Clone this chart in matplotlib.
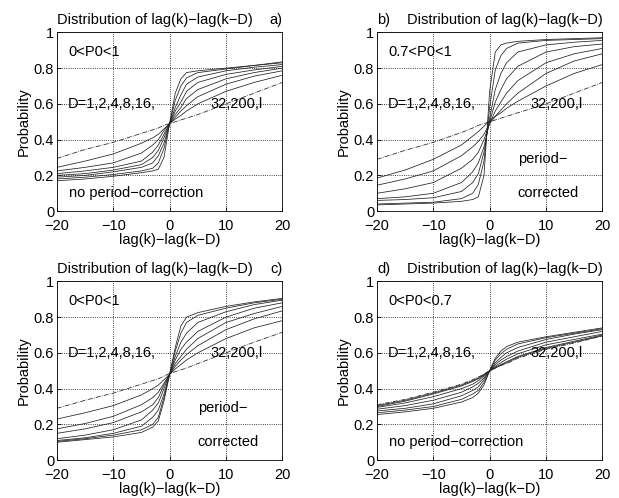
import matplotlib
matplotlib.use("Agg")
import matplotlib.pyplot as plt

plt.rcParams["font.family"] = ["Liberation Sans", "DejaVu Sans"]
plt.rcParams["font.size"] = 10.5

# sample points on the lag-difference axis
lag_diff = [-20, -15, -10, -5, -3, -2, -1, 0, 1, 2, 3, 5, 10, 15, 20]
d_labels = ["1", "2", "4", "8", "16", "32", "200", "l"]

# a) 0<P0<1, no period-correction
prob_a_d1 = [0.17, 0.18, 0.195, 0.215, 0.225, 0.235, 0.30, 0.49, 0.66, 0.74, 0.775, 0.785, 0.80, 0.815, 0.835]
prob_a_d2 = [0.18, 0.19, 0.205, 0.225, 0.24, 0.27, 0.35, 0.49, 0.62, 0.70, 0.745, 0.775, 0.795, 0.815, 0.83]
prob_a_d4 = [0.19, 0.20, 0.22, 0.245, 0.27, 0.31, 0.38, 0.49, 0.58, 0.65, 0.71, 0.75, 0.785, 0.805, 0.82]
prob_a_d8 = [0.20, 0.21, 0.23, 0.26, 0.30, 0.34, 0.41, 0.49, 0.56, 0.61, 0.67, 0.72, 0.765, 0.79, 0.81]
prob_a_d16 = [0.21, 0.225, 0.245, 0.28, 0.33, 0.37, 0.43, 0.49, 0.54, 0.58, 0.63, 0.68, 0.74, 0.775, 0.80]
prob_a_d32 = [0.225, 0.245, 0.27, 0.325, 0.37, 0.40, 0.45, 0.49, 0.525, 0.56, 0.59, 0.64, 0.71, 0.755, 0.785]
prob_a_d200 = [0.245, 0.28, 0.32, 0.38, 0.41, 0.43, 0.46, 0.49, 0.515, 0.535, 0.56, 0.60, 0.67, 0.72, 0.76]
prob_a_dl = [0.295, 0.345, 0.385, 0.435, 0.455, 0.465, 0.48, 0.49, 0.50, 0.51, 0.52, 0.54, 0.60, 0.66, 0.72]

# b) 0.7<P0<1, period-corrected
prob_b_d1 = [0.035, 0.04, 0.045, 0.055, 0.065, 0.08, 0.20, 0.67, 0.89, 0.93, 0.94, 0.95, 0.96, 0.965, 0.97]
prob_b_d2 = [0.04, 0.045, 0.05, 0.07, 0.10, 0.15, 0.28, 0.58, 0.79, 0.87, 0.91, 0.94, 0.955, 0.96, 0.965]
prob_b_d4 = [0.06, 0.065, 0.075, 0.11, 0.16, 0.21, 0.33, 0.52, 0.68, 0.77, 0.83, 0.89, 0.93, 0.945, 0.955]
prob_b_d8 = [0.07, 0.08, 0.10, 0.16, 0.22, 0.27, 0.36, 0.50, 0.61, 0.68, 0.74, 0.81, 0.89, 0.92, 0.935]
prob_b_d16 = [0.10, 0.125, 0.16, 0.24, 0.29, 0.33, 0.40, 0.49, 0.56, 0.61, 0.66, 0.73, 0.83, 0.88, 0.91]
prob_b_d32 = [0.145, 0.18, 0.225, 0.31, 0.36, 0.39, 0.43, 0.49, 0.53, 0.565, 0.60, 0.66, 0.77, 0.84, 0.88]
prob_b_d200 = [0.185, 0.23, 0.29, 0.37, 0.42, 0.445, 0.475, 0.505, 0.53, 0.55, 0.575, 0.615, 0.70, 0.77, 0.82]
prob_b_dl = [0.29, 0.34, 0.385, 0.44, 0.465, 0.48, 0.49, 0.50, 0.51, 0.52, 0.53, 0.55, 0.60, 0.66, 0.72]

# c) 0<P0<1, period-corrected
prob_c_d1 = [0.10, 0.115, 0.13, 0.155, 0.185, 0.22, 0.33, 0.48, 0.63, 0.75, 0.80, 0.825, 0.86, 0.885, 0.905]
prob_c_d2 = [0.105, 0.12, 0.14, 0.17, 0.20, 0.24, 0.35, 0.48, 0.61, 0.71, 0.77, 0.81, 0.85, 0.88, 0.90]
prob_c_d4 = [0.11, 0.125, 0.15, 0.19, 0.24, 0.28, 0.37, 0.48, 0.58, 0.66, 0.71, 0.77, 0.83, 0.87, 0.895]
prob_c_d8 = [0.12, 0.14, 0.17, 0.225, 0.28, 0.32, 0.40, 0.48, 0.56, 0.62, 0.66, 0.72, 0.80, 0.85, 0.88]
prob_c_d16 = [0.15, 0.175, 0.21, 0.27, 0.31, 0.35, 0.42, 0.48, 0.54, 0.58, 0.62, 0.68, 0.77, 0.82, 0.86]
prob_c_d32 = [0.175, 0.205, 0.245, 0.31, 0.35, 0.38, 0.43, 0.48, 0.525, 0.56, 0.59, 0.64, 0.73, 0.79, 0.835]
prob_c_d200 = [0.23, 0.265, 0.305, 0.365, 0.40, 0.42, 0.45, 0.48, 0.51, 0.535, 0.56, 0.60, 0.68, 0.74, 0.78]
prob_c_dl = [0.29, 0.335, 0.375, 0.425, 0.445, 0.455, 0.47, 0.485, 0.495, 0.505, 0.515, 0.54, 0.60, 0.66, 0.715]

# d) 0<P0<0.7, no period-correction
prob_d_d1 = [0.255, 0.27, 0.29, 0.325, 0.35, 0.375, 0.42, 0.50, 0.57, 0.61, 0.635, 0.66, 0.69, 0.715, 0.74]
prob_d_d2 = [0.265, 0.28, 0.30, 0.34, 0.37, 0.39, 0.435, 0.50, 0.56, 0.595, 0.62, 0.65, 0.685, 0.71, 0.735]
prob_d_d4 = [0.275, 0.29, 0.315, 0.36, 0.39, 0.41, 0.45, 0.50, 0.545, 0.575, 0.60, 0.63, 0.675, 0.705, 0.73]
prob_d_d8 = [0.285, 0.305, 0.335, 0.38, 0.41, 0.43, 0.46, 0.50, 0.535, 0.56, 0.58, 0.61, 0.66, 0.69, 0.72]
prob_d_d16 = [0.295, 0.32, 0.355, 0.40, 0.425, 0.445, 0.47, 0.50, 0.525, 0.545, 0.565, 0.595, 0.645, 0.675, 0.705]
prob_d_d32 = [0.30, 0.33, 0.37, 0.415, 0.44, 0.455, 0.475, 0.50, 0.52, 0.535, 0.55, 0.58, 0.63, 0.665, 0.70]
prob_d_d200 = [0.305, 0.335, 0.375, 0.42, 0.445, 0.46, 0.48, 0.50, 0.515, 0.53, 0.545, 0.575, 0.625, 0.66, 0.695]
prob_d_dl = [0.31, 0.34, 0.38, 0.425, 0.45, 0.465, 0.48, 0.50, 0.515, 0.53, 0.54, 0.57, 0.62, 0.655, 0.695]

panels = [
    ("a)", "0<P0<1", ["no period\u2212correction"],
     [prob_a_d1, prob_a_d2, prob_a_d4, prob_a_d8, prob_a_d16, prob_a_d32, prob_a_d200, prob_a_dl]),
    ("b)", "0.7<P0<1", ["period\u2212", "corrected"],
     [prob_b_d1, prob_b_d2, prob_b_d4, prob_b_d8, prob_b_d16, prob_b_d32, prob_b_d200, prob_b_dl]),
    ("c)", "0<P0<1", ["period\u2212", "corrected"],
     [prob_c_d1, prob_c_d2, prob_c_d4, prob_c_d8, prob_c_d16, prob_c_d32, prob_c_d200, prob_c_dl]),
    ("d)", "0<P0<0.7", ["no period\u2212correction"],
     [prob_d_d1, prob_d_d2, prob_d_d4, prob_d_d8, prob_d_d16, prob_d_d32, prob_d_d200, prob_d_dl]),
]

title_text = "Distribution of lag(k)\u2212lag(k\u2212D)"

fig = plt.figure(figsize=(6.19, 4.98), dpi=100)
axes_boxes = [
    [0.092, 0.576, 0.364, 0.359],
    [0.609, 0.576, 0.364, 0.359],
    [0.092, 0.076, 0.364, 0.359],
    [0.609, 0.076, 0.364, 0.359],
]

for box, (tag, p0_text, note, curves) in zip(axes_boxes, panels):
    ax = fig.add_axes(box)
    for label, probs in zip(d_labels, curves):
        style = "-." if label == "l" else "-"
        ax.plot(lag_diff, probs, style, color="#202020", lw=0.55)

    ax.set_xlim(-20, 20)
    ax.set_ylim(0, 1)
    ax.set_xticks([-20, -10, 0, 10, 20])
    ax.set_yticks([0, 0.2, 0.4, 0.6, 0.8, 1])
    ax.set_yticklabels(["0", "0.2", "0.4", "0.6", "0.8", "1"])
    ax.tick_params(direction="in", length=3, width=0.6)
    ax.tick_params(axis="x", pad=5.3)
    ax.tick_params(axis="y", pad=2)
    ax.grid(True, linestyle=":", color="k", lw=0.6)
    for spine in ax.spines.values():
        spine.set_linewidth(0.6)

    ax.set_xlabel("lag(k)\u2212lag(k\u2212D)", labelpad=0)
    ax.set_ylabel("Probability", labelpad=2)
    # tag sits on the outer side of each column
    if tag in ("a)", "c)"):
        ax.set_title(title_text, loc="left", pad=6, fontsize=10.5)
        ax.set_title(tag, loc="right", pad=6, fontsize=10.5)
    else:
        ax.set_title(tag, loc="left", pad=6, fontsize=10.5)
        ax.set_title(title_text, loc="right", pad=6, fontsize=10.5)

    ax.text(-18, 0.89, p0_text, va="center")
    ax.text(-18, 0.60, "D=1,2,4,8,16,", va="center")
    ax.text(7.2, 0.60, "32,200,l", va="center")
    if len(note) == 1:
        ax.text(-17.8, 0.10, note[0], va="center")
    else:
        ax.text(5.0, 0.29, note[0], va="center")
        ax.text(5.0, 0.10, note[1], va="center")

fig.savefig("out.png", dpi=100)
